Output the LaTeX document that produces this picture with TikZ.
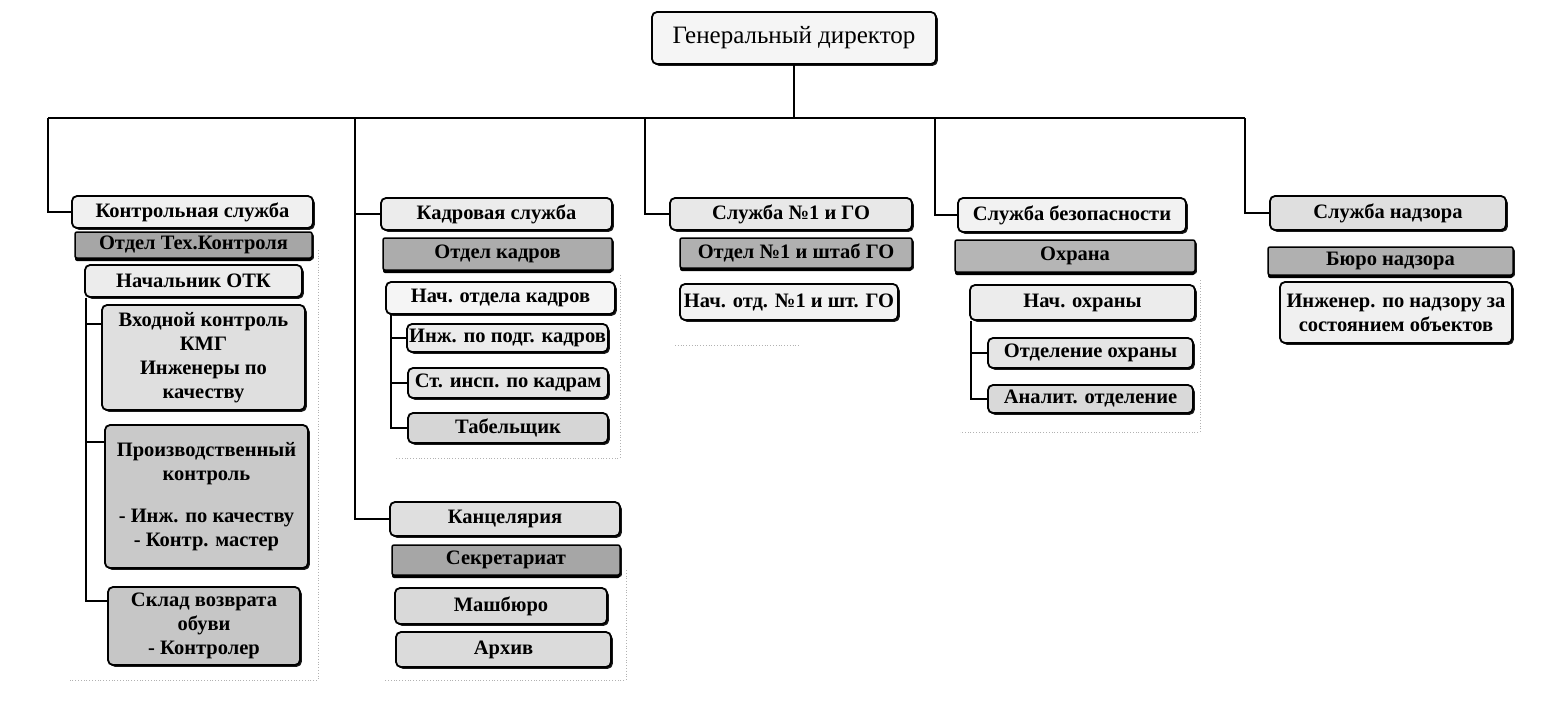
\documentclass[tikz,border=0pt]{standalone}
\usepackage{fontspec}
\setmainfont{Liberation Serif}
\usetikzlibrary{shadows}
\newcommand\bx[8][box]{\node[#1, fill=#7, minimum width={(#5-#3)*1pt}, minimum height={(#6-#4)*1pt}] (#2) at ({(#3+#5)/2},{(#4+#6)/2}) {#8};}
\begin{document}
\begin{tikzpicture}[x=1pt,y=-1pt,
  box/.style={draw=black, line width=1.8pt, rounded corners=5pt, inner sep=0pt, align=center,
    font=\fontsize{20.5}{24}\selectfont\bfseries,
    drop shadow={shadow xshift=1.8pt, shadow yshift=-1.8pt, fill=black, opacity=0.9}},
  dbox/.style={box, rounded corners=2pt, line width=1.5pt,
    drop shadow={shadow xshift=0pt, shadow yshift=-3pt, fill=black, opacity=1}},
  link/.style={line width=1.6pt, draw=black},
  frame/.style={draw=gray!60, line width=0.8pt, dotted}]
\fill[white] (0,0) rectangle (1560,716);
\useasboundingbox (0,0) rectangle (1560,716);

% frames
\draw[frame] (318,250) -- (318,680) -- (68,680);
\draw[frame] (620,275) -- (620,458) -- (395,458);
\draw[frame] (626,570) -- (626,680) -- (385,680);
\draw[frame] (675,345) -- (800,345);
\draw[frame] (1200,280) -- (1200,432) -- (960,432);

% director
\bx{gd}{652}{12}{936}{64}{gray!8}{\fontsize{25}{28}\selectfont\mdseries Генеральный директор}

% column 1
\bx{ks}{72}{196}{313}{228}{gray!12}{Контрольная служба}
\bx[dbox]{otk}{75}{232}{312}{258}{gray!70}{Отдел Тех.Контроля}
\bx{nach}{85}{265}{302}{297}{gray!15}{Начальник ОТК}
\bx{vk}{102}{305}{305}{410}{gray!25}{Входной контроль\\КМГ\\Инженеры по\\качеству}
\bx{pk}{105}{425}{308}{568}{gray!42}{Производственный\\контроль\\[18pt]- Инж. по качеству\\- Контр. мастер}
\bx{sk}{108}{587}{300}{665}{gray!45}{Склад возврата\\обуви\\- Контролер}

% column 2
\bx{kad}{381}{198}{612}{230}{gray!15}{Кадровая служба}
\bx[dbox]{okad}{383}{238}{612}{270}{gray!65}{Отдел кадров}
\bx{nok}{386}{282}{615}{314}{gray!8}{Нач. отдела кадров}
\bx{ip}{407}{324}{608}{352}{gray!15}{Инж. по подг. кадров}
\bx{si}{408}{368}{608}{398}{gray!20}{Ст. инсп. по кадрам}
\bx{tab}{408}{413}{608}{443}{gray!32}{Табельщик}
\bx{kanc}{390}{502}{620}{536}{gray!25}{Канцелярия}
\bx[dbox]{sekr}{392}{545}{620}{575}{gray!70}{Секретариат}
\bx{mash}{395}{588}{607}{624}{gray!30}{Машбюро}
\bx{arh}{396}{632}{611}{667}{gray!28}{Архив}

% column 3
\bx{s1}{670}{198}{912}{230}{gray!18}{Служба №1 и ГО}
\bx[dbox]{o1}{680}{238}{912}{268}{gray!62}{Отдел №1 и штаб ГО}
\bx{n1}{680}{284}{898}{320}{gray!10}{Нач. отд. №1 и шт. ГО}

% column 4
\bx{sb}{958}{198}{1186}{232}{gray!10}{Служба безопасности}
\bx[dbox]{oh}{955}{240}{1195}{272}{gray!58}{Охрана}
\bx{noh}{970}{285}{1195}{320}{gray!15}{Нач. охраны}
\bx{oo}{988}{338}{1193}{368}{gray!20}{Отделение охраны}
\bx{ao}{988}{385}{1193}{413}{gray!30}{Аналит. отделение}

% column 5
\bx{sn}{1270}{196}{1506}{230}{gray!25}{Служба надзора}
\bx[dbox]{bn}{1268}{247}{1513}{275}{gray!62}{Бюро надзора}
\bx{inz}{1280}{282}{1512}{343}{gray!12}{Инженер. по надзору за\\состоянием объектов}

% bus
\coordinate (t1) at (48,118);
\coordinate (t2) at (355,118);
\coordinate (t3) at (645,118);
\coordinate (t4) at (935,118);
\coordinate (t5) at (1245,118);
\draw[link] (gd.south) -- (gd.south |- t1);
\draw[link] (t1) -- (t5);
\draw[link] (t1) |- (ks.west);
\draw[link] (t2) |- (kad.west);
\draw[link] (t2) |- (kanc.west);
\draw[link] (t3) |- (s1.west);
\draw[link] (t4) |- (sb.west);
\draw[link] (t5) |- (sn.west);

% sub branches
\coordinate (v1) at ([xshift=2pt]nach.south west);
\draw[link] (v1) |- ([yshift=-20pt]vk.north west);
\draw[link] (v1) |- ([yshift=-18pt]pk.north west);
\draw[link] (v1) |- ([yshift=-15pt]sk.north west);

\coordinate (v2) at ([xshift=6pt]nok.south west);
\draw[link] (v2) |- (ip.west);
\draw[link] (v2) |- (si.west);
\draw[link] (v2) |- (tab.west);

\coordinate (v4) at ([xshift=2pt]noh.south west);
\draw[link] (v4) |- (oo.west);
\draw[link] (v4) |- (ao.west);
\end{tikzpicture}
\end{document}
